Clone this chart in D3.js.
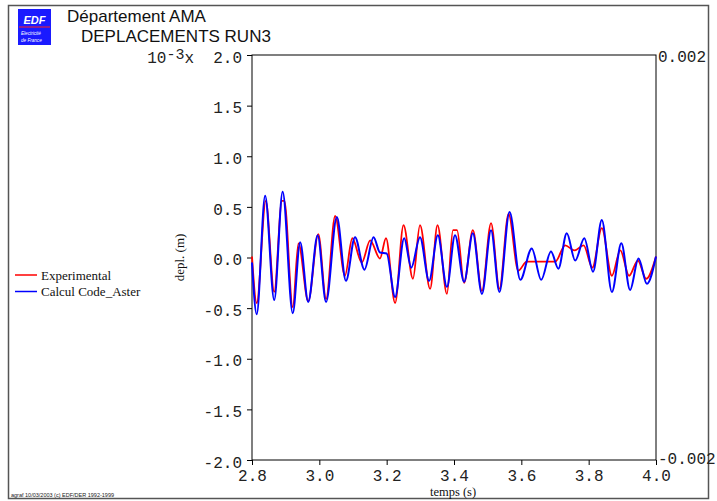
<!DOCTYPE html>
<html>
<head>
<meta charset="utf-8">
<script src="https://cdn.jsdelivr.net/npm/d3@7/dist/d3.min.js"></script>
<style>
  html, body { margin: 0; padding: 0; background: #fff; }
  svg { display: block; }
  .tick text { font-family: "Liberation Mono", monospace; font-size: 16px; fill: #222; }
  .tick line { stroke: #000; }
</style>
</head>
<body>
<svg id="chart" width="717" height="501"></svg>
<script>
// Displacement (units of 1e-3 m) versus time (s), RUN3
const expTime = [2.800, 2.814, 2.841, 2.866, 2.889, 2.896, 2.921, 2.938, 2.967, 2.997,
                 3.020, 3.047, 3.076, 3.098, 3.126, 3.151, 3.180, 3.198, 3.225, 3.250,
                 3.278, 3.299, 3.329, 3.351, 3.379, 3.397, 3.409, 3.430, 3.456, 3.483,
                 3.510, 3.535, 3.562, 3.591, 3.616, 3.701, 3.730, 3.758, 3.785, 3.811,
                 3.839, 3.869, 3.894, 3.920, 3.946, 3.971, 4.000];
const expDepl = [0.01, -0.45, 0.56, -0.34, 0.56, 0.56, -0.49, 0.14, -0.43, 0.23,
                 -0.41, 0.41, -0.18, 0.19, -0.05, 0.17, -0.01, 0.19, -0.45, 0.32,
                 -0.21, 0.32, -0.31, 0.32, -0.36, 0.27, 0.27, -0.25, 0.27, -0.33,
                 0.34, -0.31, 0.43, -0.13, -0.04, -0.04, 0.12, 0.07, 0.12, -0.10,
                 0.29, -0.18, 0.07, -0.18, -0.03, -0.21, 0.01];

const calcTime = [2.800, 2.814, 2.839, 2.866, 2.891, 2.921, 2.943, 2.967, 2.995, 3.020,
                  3.052, 3.079, 3.106, 3.134, 3.161, 3.180, 3.200, 3.225, 3.252, 3.273,
                  3.299, 3.326, 3.352, 3.379, 3.403, 3.430, 3.456, 3.483, 3.510, 3.535,
                  3.565, 3.597, 3.631, 3.659, 3.688, 3.710, 3.735, 3.760, 3.787, 3.813,
                  3.839, 3.869, 3.897, 3.923, 3.948, 3.973, 4.000];
const calcDepl = [-0.05, -0.56, 0.61, -0.42, 0.65, -0.55, 0.15, -0.44, 0.22, -0.44,
                  0.40, -0.23, 0.20, -0.12, 0.20, 0.05, 0.04, -0.39, 0.19, -0.10,
                  0.20, -0.23, 0.22, -0.29, 0.22, -0.24, 0.24, -0.36, 0.27, -0.34,
                  0.45, -0.22, 0.09, -0.22, 0.06, -0.11, 0.24, -0.03, 0.19, -0.14,
                  0.37, -0.34, 0.14, -0.32, -0.01, -0.26, 0.01];

const xTicks = [2.8, 3.0, 3.2, 3.4, 3.6, 3.8, 4.0];
const yTicks = [-2.0, -1.5, -1.0, -0.5, 0.0, 0.5, 1.0, 1.5, 2.0];
const yRightTicks = [-0.002, 0.002];

const seriesNames = ["Experimental", "Calcul Code_Aster"];
const seriesColors = ["#ff0000", "#0000ff"];

const svg = d3.select("#chart");
const plot = { left: 252, right: 656, top: 55, bottom: 460 };

const x = d3.scaleLinear().domain([2.8, 4.0]).range([plot.left, plot.right]);
const y = d3.scaleLinear().domain([-2, 2]).range([plot.bottom, plot.top]);
const yRight = d3.scaleLinear().domain([-0.002, 0.002]).range([plot.bottom, plot.top]);

// outer frame
svg.append("rect")
  .attr("x", 8.5).attr("y", 5.5).attr("width", 700).attr("height", 493)
  .attr("fill", "none").attr("stroke", "#555").attr("stroke-width", 1.5);

// EDF logo
const logo = svg.append("g");
logo.append("rect").attr("x", 18).attr("y", 9).attr("width", 33).attr("height", 36).attr("fill", "#1a1aff");
logo.append("text").attr("x", 34.5).attr("y", 23.5).attr("text-anchor", "middle")
  .attr("font-family", "Liberation Sans, Arial, sans-serif").attr("font-size", 11)
  .attr("font-weight", "bold").attr("font-style", "italic").attr("fill", "#fff").text("EDF");
logo.append("line").attr("x1", 19).attr("x2", 50).attr("y1", 27).attr("y2", 27)
  .attr("stroke", "#ff2020").attr("stroke-width", 1);
logo.append("text").attr("x", 21).attr("y", 34.5)
  .attr("font-family", "Liberation Sans, Arial, sans-serif").attr("font-size", 4.6)
  .attr("font-style", "italic").attr("fill", "#fff").text("Electricité");
logo.append("text").attr("x", 21).attr("y", 42)
  .attr("font-family", "Liberation Sans, Arial, sans-serif").attr("font-size", 4.6)
  .attr("font-style", "italic").attr("fill", "#fff").text("de France");

// titles
svg.append("text").attr("x", 67).attr("y", 22)
  .attr("font-family", "Liberation Sans, Arial, sans-serif").attr("font-size", 17)
  .attr("fill", "#111").text("Département AMA");
svg.append("text").attr("x", 81).attr("y", 42)
  .attr("font-family", "Liberation Sans, Arial, sans-serif").attr("font-size", 17)
  .attr("fill", "#111").text("DEPLACEMENTS RUN3");

// plot box
svg.append("rect")
  .attr("x", plot.left).attr("y", plot.top)
  .attr("width", plot.right - plot.left).attr("height", plot.bottom - plot.top)
  .attr("fill", "none").attr("stroke", "#000").attr("stroke-width", 1);

const fmt1 = d => d.toFixed(1);

// left axis
const gy = svg.append("g").attr("transform", `translate(${plot.left},0)`)
  .call(d3.axisLeft(y).tickValues(yTicks).tickFormat(fmt1).tickSize(5).tickSizeOuter(0).tickPadding(5));
gy.select(".domain").remove();
gy.selectAll(".tick text").attr("dy", "0.45em");

// exponent on the top label
const topTick = gy.selectAll(".tick").filter(d => d === 2.0).select("text");
topTick.text(null);
topTick.append("tspan").text("10");
topTick.append("tspan").attr("dy", "-0.25em").attr("font-size", 15).text("-3");
topTick.append("tspan").attr("dy", "0.25em").text("x");
topTick.append("tspan").attr("dx", "1.2em").text("2.0");

// bottom axis
const gx = svg.append("g").attr("transform", `translate(0,${plot.bottom})`)
  .call(d3.axisBottom(x).tickValues(xTicks).tickFormat(fmt1).tickSize(5).tickSizeOuter(0).tickPadding(5));
gx.select(".domain").remove();

// right axis in metres
const gr = svg.append("g").attr("transform", `translate(${plot.right},0)`)
  .call(d3.axisRight(yRight).tickValues(yRightTicks).tickFormat(d => String(d)).tickSize(0).tickPadding(2));
gr.select(".domain").remove();
gr.selectAll(".tick text").attr("dy", d => d < 0 ? "0.2em" : "0.4em");

// axis titles
svg.append("text").attr("x", (plot.left + plot.right) / 2 - 1).attr("y", 496)
  .attr("text-anchor", "middle")
  .attr("font-family", "Liberation Serif, Times New Roman, serif").attr("font-size", 12.5)
  .attr("fill", "#111").text("temps (s)");
svg.append("text")
  .attr("transform", `translate(${184},${(plot.top + plot.bottom) / 2}) rotate(-90)`)
  .attr("text-anchor", "middle")
  .attr("font-family", "Liberation Serif, Times New Roman, serif").attr("font-size", 13)
  .attr("fill", "#111").text("depl. (m)");

// curves
const expData = expTime.map((t, i) => ({ t, v: expDepl[i] }));
const calcData = calcTime.map((t, i) => ({ t, v: calcDepl[i] }));

const lineExp = d3.line().x(d => x(d.t)).y(d => y(d.v)).curve(d3.curveMonotoneX);
const lineCalc = d3.line().x(d => x(d.t)).y(d => y(d.v)).curve(d3.curveMonotoneX);

svg.append("path").datum(expData).attr("d", lineExp)
  .attr("fill", "none").attr("stroke", seriesColors[0]).attr("stroke-width", 1.8)
  .attr("stroke-linejoin", "round");
svg.append("path").datum(calcData).attr("d", lineCalc)
  .attr("fill", "none").attr("stroke", seriesColors[1]).attr("stroke-width", 2)
  .attr("stroke-linejoin", "round");

// legend
const legend = svg.append("g");
seriesNames.forEach((name, i) => {
  const yy = 275 + i * 16.5;
  legend.append("line").attr("x1", 15).attr("x2", 37).attr("y1", yy).attr("y2", yy)
    .attr("stroke", seriesColors[i]).attr("stroke-width", 1.5);
  legend.append("text").attr("x", 41).attr("y", yy + 4.5)
    .attr("font-family", "Liberation Serif, Times New Roman, serif").attr("font-size", 13)
    .attr("fill", "#111").text(name);
});

// footer
svg.append("text").attr("x", 11).attr("y", 497)
  .attr("font-family", "Liberation Sans, Arial, sans-serif").attr("font-size", 5.5)
  .attr("fill", "#222").text("agraf 10/03/2003 (c) EDF/DER 1992-1999");
</script>
</body>
</html>
